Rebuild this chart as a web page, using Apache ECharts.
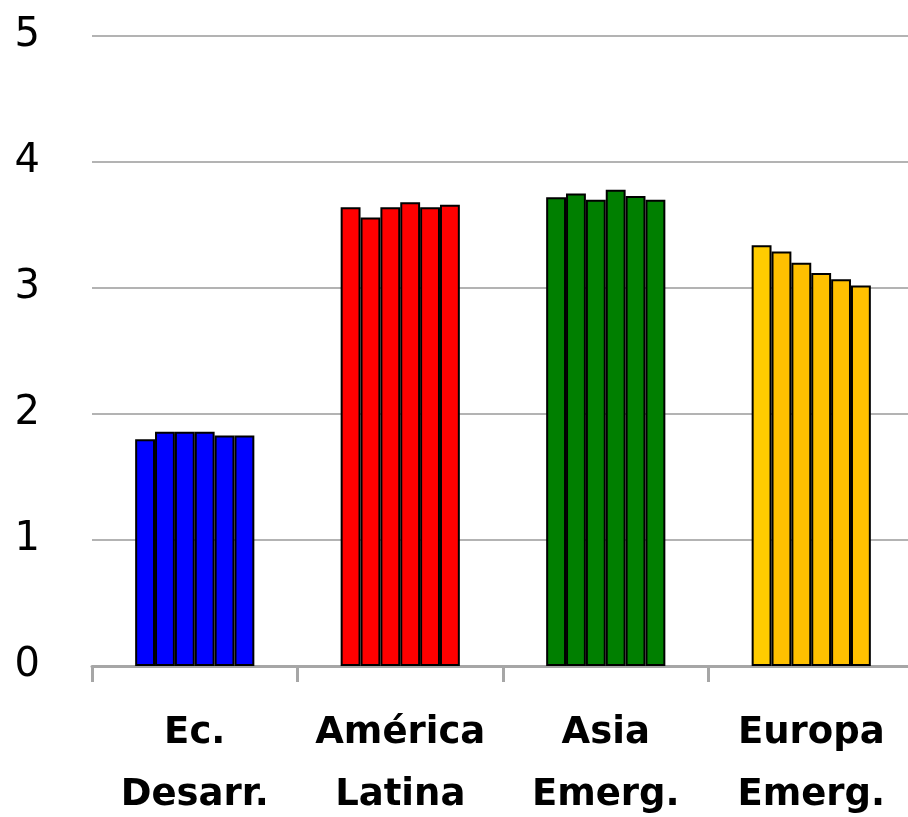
<!DOCTYPE html>
<html>
<head>
<meta charset="utf-8">
<script src="https://cdn.jsdelivr.net/npm/echarts@6/dist/echarts.min.js"></script>
<style>
html, body { margin: 0; padding: 0; background: #fff; }
#chart { width: 908px; height: 817px; }
</style>
</head>
<body>
<div id="chart"></div>
<script>
// categorias (regiones)
var categories = ['Ec.\nDesarr.', 'América\nLatina', 'Asia\nEmerg.', 'Europa\nEmerg.'];
// colores por region
var regionColors = ['#0000ff', '#ff0000', '#007f00', '#ffc000'];
var firstColors = ['#0000ff', '#ff0000', '#007f00', '#ffcc00'];
// seis barras por region
var bar1 = [1.80, 3.64, 3.72, 3.34];
var bar2 = [1.86, 3.56, 3.75, 3.29];
var bar3 = [1.86, 3.64, 3.70, 3.20];
var bar4 = [1.86, 3.68, 3.78, 3.12];
var bar5 = [1.83, 3.64, 3.73, 3.07];
var bar6 = [1.83, 3.66, 3.70, 3.02];
var yTicks = [0, 1, 2, 3, 4, 5];

var myChart = echarts.init(document.getElementById('chart'));

function makeSeries(values, colors) {
    return {
        type: 'bar',
        barGap: 0,
        barCategoryGap: '42%',
        data: values.map(function (v, i) {
            return { value: v, itemStyle: { color: colors[i] } };
        }),
        itemStyle: { borderColor: '#000', borderWidth: 2 },
        silent: true
    };
}

var option = {
    animation: false,
    grid: { left: 92, right: -6, top: 36, bottom: 151, outerBoundsMode: 'none', containLabel: false },
    xAxis: {
        type: 'category',
        data: categories,
        axisLine: { lineStyle: { color: '#a6a6a6', width: 3 } },
        axisTick: { show: true, length: 16, lineStyle: { color: '#a6a6a6', width: 3 } },
        axisLabel: {
            color: '#000',
            fontFamily: 'DejaVu Sans',
            fontWeight: 'bold',
            fontSize: 37,
            lineHeight: 62,
            margin: 36,
            interval: 0
        }
    },
    yAxis: {
        type: 'value',
        min: yTicks[0],
        max: yTicks[yTicks.length - 1],
        interval: 1,
        axisLine: { show: false },
        axisTick: { show: false },
        splitLine: { lineStyle: { color: '#b3b3b3', width: 2 } },
        axisLabel: {
            color: '#000',
            fontFamily: 'DejaVu Sans',
            fontSize: 40,
            margin: 52
        }
    },
    series: [
        makeSeries(bar1, firstColors),
        makeSeries(bar2, regionColors),
        makeSeries(bar3, regionColors),
        makeSeries(bar4, regionColors),
        makeSeries(bar5, regionColors),
        makeSeries(bar6, regionColors)
    ]
};

myChart.setOption(option);
</script>
</body>
</html>
